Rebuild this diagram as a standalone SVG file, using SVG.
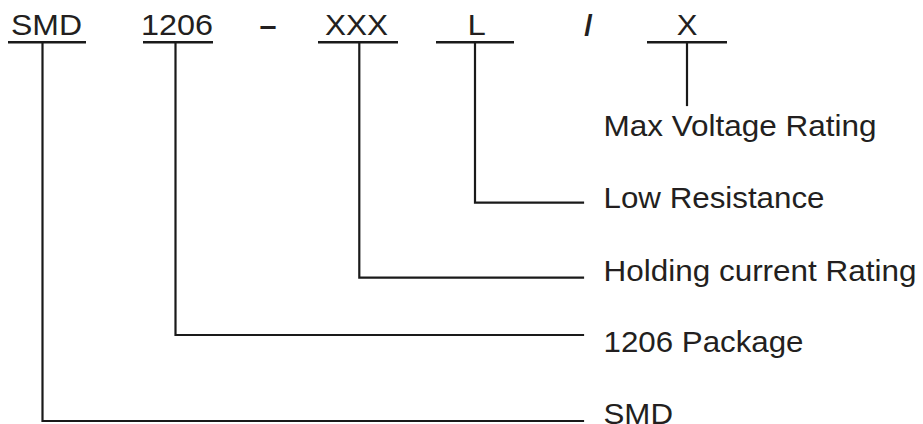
<svg xmlns="http://www.w3.org/2000/svg" width="923" height="424" viewBox="0 0 923 424">
<style>
text{font-family:"Liberation Sans",Arial,sans-serif;font-size:30px;fill:#231f20}
.b{font-weight:bold}
.ul{stroke:#1a1a1a;stroke-width:2.6;fill:none}
.ln{stroke:#1a1a1a;stroke-width:2.2;fill:none;stroke-linejoin:miter;stroke-linecap:square}
</style>
<rect width="923" height="424" fill="#fff"/>
<g id="code-smd">
<text x="46.5" y="35" text-anchor="middle" textLength="71" lengthAdjust="spacingAndGlyphs">SMD</text>
<line class="ul" x1="8" y1="42.3" x2="86" y2="42.3"/>
</g>
<g id="code-1206">
<text x="177" y="35" text-anchor="middle" textLength="72" lengthAdjust="spacingAndGlyphs">1206</text>
<line class="ul" x1="143" y1="42.3" x2="213" y2="42.3"/>
</g>
<g id="code-dash">
<text class="b" x="268" y="35.5" text-anchor="middle" textLength="17" lengthAdjust="spacingAndGlyphs">–</text>
</g>
<g id="code-xxx">
<text x="356.5" y="35" text-anchor="middle" textLength="63" lengthAdjust="spacingAndGlyphs">XXX</text>
<line class="ul" x1="318" y1="42.3" x2="398" y2="42.3"/>
</g>
<g id="code-l">
<text x="467.6" y="35" textLength="18.3" lengthAdjust="spacingAndGlyphs">L</text>
<line class="ul" x1="436" y1="42.3" x2="514" y2="42.3"/>
</g>
<g id="code-slash">
<text class="b" x="588.5" y="35.5" text-anchor="middle">/</text>
</g>
<g id="code-x">
<text x="687" y="35" text-anchor="middle" textLength="20.7" lengthAdjust="spacingAndGlyphs">X</text>
<line class="ul" x1="647" y1="42.3" x2="727" y2="42.3"/>
</g>
<g id="label-max-voltage">
<text x="603.5" y="136" textLength="273" lengthAdjust="spacingAndGlyphs">Max Voltage Rating</text>
</g>
<g id="label-low-resistance">
<text x="603.5" y="208" textLength="221" lengthAdjust="spacingAndGlyphs">Low Resistance</text>
</g>
<g id="label-holding">
<text x="603.5" y="281" textLength="313" lengthAdjust="spacingAndGlyphs">Holding current Rating</text>
</g>
<g id="label-package">
<text x="603.5" y="352" textLength="200" lengthAdjust="spacingAndGlyphs">1206 Package</text>
</g>
<g id="label-smd">
<text x="603.5" y="423.5" textLength="69.5" lengthAdjust="spacingAndGlyphs">SMD</text>
</g>
<g id="connectors">
<path class="ln" d="M42.5,43 V421 H583"/>
<path class="ln" d="M175.5,43 V335 H583"/>
<path class="ln" d="M359.3,43 V277.7 H583"/>
<path class="ln" d="M475,43 V202.7 H583"/>
<path class="ln" d="M687,43 V105"/>
</g>
</svg>
